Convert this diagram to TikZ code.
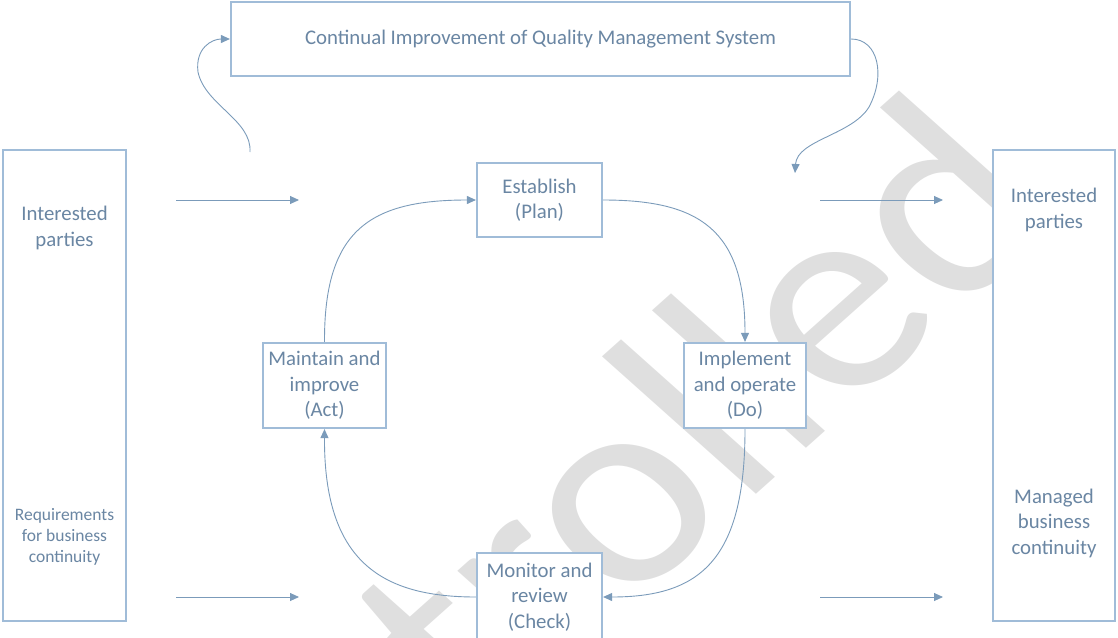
\documentclass[tikz,border=0pt]{standalone}
\usepackage{fontspec}
\setmainfont{Carlito}
\usetikzlibrary{arrows.meta}
\definecolor{txtc}{HTML}{6A86A3}
\definecolor{linec}{HTML}{7B9BBA}
\definecolor{boxc}{HTML}{A0BCD8}
\definecolor{wmark}{HTML}{DFDFDF}
\tikzset{
  box/.style={draw=boxc, line width=2.2pt, fill=white, inner sep=0pt},
  lbl/.style={text=txtc, font=\fontsize{20.8}{25.5}\selectfont, align=center, inner sep=0pt},
  small/.style={text=txtc, font=\fontsize{17.5}{21}\selectfont, align=center, inner sep=0pt},
  flow/.style={draw=linec, line width=0.9pt, -{Triangle[length=9pt,width=8pt]}},
}
\begin{document}
\begin{tikzpicture}[x=1pt,y=-1pt]
\useasboundingbox (0,0) rectangle (1118,637);
\clip (0,0) rectangle (1118,637);

% watermark, stretched sideways
\begin{scope}[xscale=1.12]
\node[text=wmark, font=\fontsize{280}{280}\selectfont, rotate=45, anchor=base west,
      inner sep=0pt, transform shape] (wm) at (424,745) {trolled};
\end{scope}

% boxes
\node[box, minimum width=619pt, minimum height=74pt] (top) at (540.5,39) {};
\node[lbl] (topt) at (top.center) {Continual Improvement of Quality Management System};

\node[box, minimum width=123pt, minimum height=471pt] (left) at (64.5,385.5) {};
\node[lbl] (lip) at (64.5,228) {Interested\\parties};
\node[small] (lreq) at (64.5,537) {Requirements\\for business\\continuity};

\node[box, minimum width=122pt, minimum height=471pt] (right) at (1054,385.5) {};
\node[lbl] (rip) at (1054,210) {Interested\\parties};
\node[lbl] (rmbc) at (1054,523) {Managed\\business\\continuity};

\node[box, minimum width=125pt, minimum height=74pt] (plan) at (539.5,200) {};
\node[lbl] (plant) at (plan.center) {Establish\\(Plan)};

\node[box, minimum width=123pt, minimum height=85pt] (act) at (324.5,385.5) {};
\node[lbl] (actt) at (act.center) {Maintain and\\improve\\(Act)};

\node[box, minimum width=122pt, minimum height=85pt] (do) at (745,385.5) {};
\node[lbl] (dot) at (do.center) {Implement\\and operate\\(Do)};

\node[box, minimum width=125pt, minimum height=92pt] (check) at (539.5,599) {};
\node[lbl] (checkt) at (539.5,597) {Monitor and\\review\\(Check)};

% free ends of the side arrows and of the improvement loop
\coordinate (a1s) at (176,200); \coordinate (a1e) at (299,200);
\coordinate (a2s) at (176,597); \coordinate (a2e) at (299,597);
\coordinate (a3s) at (820,200); \coordinate (a3e) at (943,200);
\coordinate (a4s) at (820,597); \coordinate (a4e) at (943,597);
\coordinate (loopin) at (250,152);
\coordinate (loopout) at (795,173);

\draw[flow] (a1s) -- (a1e);
\draw[flow] (a2s) -- (a2e);
\draw[flow] (a3s) -- (a3e);
\draw[flow] (a4s) -- (a4e);

% continual improvement loop
\draw[flow] (loopin) .. controls (252,120) and (205,105) .. (198,72)
  .. controls (195,48) and (212,39) .. (top.west);
\draw[flow] (top.east) .. controls (878,39) and (886,75) .. (869,107)
  .. controls (852,135) and (797,140) .. (loopout);

% PDCA cycle
\draw[flow] (act.north) .. controls (324,230) and (370,200) .. (plan.west);
\draw[flow] (plan.east) .. controls (700,200) and (745,230) .. (do.north);
\draw[flow] (do.south) .. controls (745,560) and (700,597) .. (check.east |- 0,597);
\draw[flow] (check.west |- 0,597) .. controls (380,597) and (324,560) .. (act.south);
\end{tikzpicture}
\end{document}
